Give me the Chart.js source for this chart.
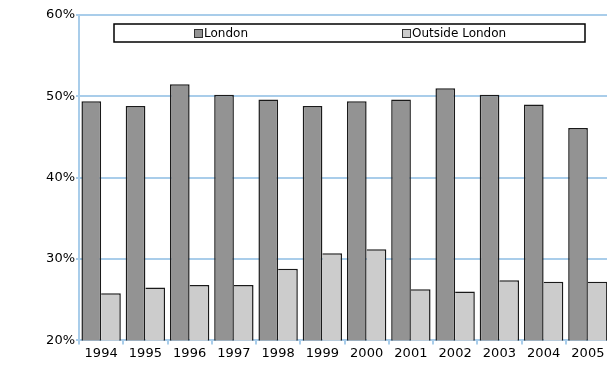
<!DOCTYPE html>
<html>
<head>
<meta charset="utf-8">
<script src="https://cdn.jsdelivr.net/npm/chart.js@4/dist/chart.umd.min.js"></script>
<style>
  html, body { margin: 0; padding: 0; background: #fff; overflow: hidden; }
  #wrap { width: 610px; height: 365px; position: relative; }
</style>
</head>
<body>
<div id="wrap"><canvas id="share"></canvas></div>
<script>
const years = ["1994", "1995", "1996", "1997", "1998", "1999", "2000", "2001", "2002", "2003", "2004", "2005"];
const london = [49.4, 48.8, 51.5, 50.2, 49.6, 48.8, 49.4, 49.6, 51.0, 50.2, 49.0, 46.1];
const outsideLondon = [25.8, 26.5, 26.8, 26.8, 28.8, 30.7, 31.2, 26.3, 26.0, 27.4, 27.2, 27.2];
const yTicks = [20, 30, 40, 50, 60];

const gridBlue = '#a9cdea';

// boxed legend across the top of the plot, like the original
const boxLegend = {
  id: 'boxLegend',
  afterDraw(chart) {
    const ctx = chart.ctx;
    ctx.save();
    ctx.fillStyle = '#fff';
    ctx.fillRect(114, 24, 471, 18);
    ctx.strokeStyle = '#000';
    ctx.lineWidth = 1.5;
    ctx.strokeRect(114, 24, 471, 18);
    ctx.font = '12px "DejaVu Sans"';
    ctx.textBaseline = 'middle';
    const xs = [194, 402];
    chart.data.datasets.forEach((ds, i) => {
      ctx.fillStyle = ds.backgroundColor;
      ctx.fillRect(xs[i], 29, 8, 8);
      ctx.strokeStyle = '#333';
      ctx.lineWidth = 1;
      ctx.strokeRect(xs[i] + 0.5, 29.5, 8, 8);
      ctx.fillStyle = '#000';
      ctx.fillText(ds.label, xs[i] + 10, 33.5);
    });
    ctx.restore();
  }
};

const ctx = document.getElementById('share').getContext('2d');

const shareChart = new Chart(ctx, {
  type: 'bar',
  data: {
    labels: years,
    datasets: [{
      label: 'London',
      data: london,
      backgroundColor: '#939393',
      borderColor: '#1a1a1a',
      borderWidth: 1.5,
      borderSkipped: false
    }, {
      label: 'Outside London',
      data: outsideLondon,
      backgroundColor: '#cccccc',
      borderColor: '#1a1a1a',
      borderWidth: { top: 1.5, right: 1.5, bottom: 1.5, left: 0 },
      borderSkipped: false
    }]
  },
  plugins: [boxLegend],
  options: {
    responsive: true,
    maintainAspectRatio: false,
    animation: false,
    layout: {
      padding: { top: 15, bottom: 3, left: 0, right: 0 }
    },
    datasets: {
      bar: {
        categoryPercentage: 0.89,
        barPercentage: 1.0
      }
    },
    scales: {
      x: {
        grid: {
          display: true,
          offset: true,
          drawOnChartArea: false,
          drawTicks: true,
          tickLength: 4,
          color: gridBlue,
          lineWidth: 2
        },
        border: { display: false },
        ticks: {
          color: '#000',
          font: { family: '"DejaVu Sans"', size: 13 },
          maxRotation: 0,
          autoSkip: false,
          padding: 1
        }
      },
      y: {
        min: 20,
        max: 60,
        afterFit(scale) { scale.width = 79; },
        afterBuildTicks(scale) {
          scale.ticks = yTicks.map(v => ({ value: v }));
        },
        grid: {
          color: gridBlue,
          lineWidth: 2,
          drawTicks: true,
          tickLength: 3
        },
        border: { display: true, color: gridBlue, width: 2 },
        ticks: {
          color: '#000',
          font: { family: '"DejaVu Sans"', size: 13 },
          padding: 1,
          callback: v => v + '%'
        }
      }
    },
    plugins: {
      legend: { display: false },
      tooltip: { enabled: false }
    }
  }
});
</script>
</body>
</html>
